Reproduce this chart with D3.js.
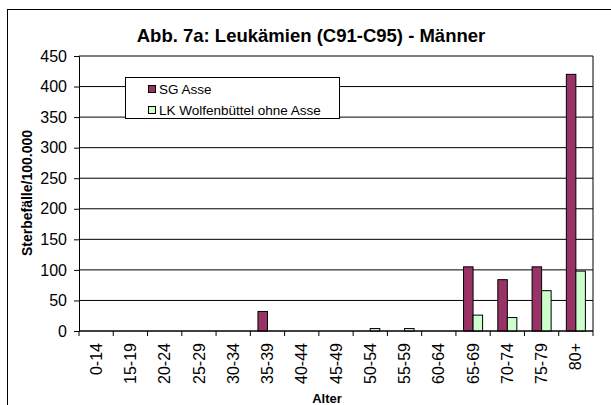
<!DOCTYPE html>
<html>
<head>
    <meta charset="UTF-8">
    <title>Leukämien Männer</title>
    <script src="https://d3js.org/d3.v7.min.js"></script>
    <style>
        body { margin: 0; background: #fff; }
        text { font-family: "Liberation Sans", Arial, sans-serif; fill: #000; }
    </style>
</head>
<body>
    <svg id="chart" width="611" height="405"></svg>
    <script>

        // data
        var categories = ["0-14", "15-19", "20-24", "25-29", "30-34", "35-39", "40-44", "45-49",
                          "50-54", "55-59", "60-64", "65-69", "70-74", "75-79", "80+"];
        var sgAsse = [0, 0, 0, 0, 0, 32, 0, 0, 0, 0, 0, 105, 84, 105, 420];
        var lkWolfenbuettel = [0, 0, 0, 0, 0, 0, 0, 0, 4, 4, 0, 26, 22, 66, 98];
        var seriesNames = ["SG Asse", "LK Wolfenbüttel ohne Asse"];
        var seriesColors = ["#993366", "#CCFFCC"];
        var yTicks = [0, 50, 100, 150, 200, 250, 300, 350, 400, 450];

        var svg = d3.select("#chart");

        // outer frame of the chart object
        svg.append("rect")
            .attr("x", 7.5).attr("y", 9.5)
            .attr("width", 620).attr("height", 420)
            .attr("fill", "#fff").attr("stroke", "#000");

        var x = d3.scaleBand().domain(categories).range([79, 593]).padding(0);
        var xs = d3.scaleBand().domain([0, 1]).range([0, x.bandwidth()])
            .paddingInner(0).paddingOuter(0.8);
        var y = d3.scaleLinear().domain([0, 450]).range([331, 56]);

        // gridlines
        svg.append("g").selectAll("line")
            .data(yTicks).enter().append("line")
            .attr("x1", 79).attr("x2", 593)
            .attr("y1", d => y(d)).attr("y2", d => y(d))
            .attr("stroke", "#000");

        // right border of plot area
        svg.append("line")
            .attr("x1", 593).attr("x2", 593)
            .attr("y1", y(450)).attr("y2", y(0))
            .attr("stroke", "#000");

        // bars
        var rows = categories.map((c, i) => ({ cat: c, vals: [sgAsse[i], lkWolfenbuettel[i]] }));
        var groups = svg.append("g").selectAll("g")
            .data(rows).enter().append("g")
            .attr("transform", d => "translate(" + x(d.cat) + ",0)");

        groups.selectAll("rect")
            .data(d => d.vals.map((v, k) => ({ k: k, v: v })).filter(e => e.v > 0))
            .enter().append("rect")
            .attr("x", e => xs(e.k))
            .attr("width", xs.bandwidth())
            .attr("y", e => y(e.v))
            .attr("height", e => y(0) - y(e.v))
            .attr("fill", e => seriesColors[e.k])
            .attr("stroke", "#000")
            .attr("stroke-width", 1);

        // y axis
        var yAxis = svg.append("g")
            .attr("transform", "translate(79,0)")
            .call(d3.axisLeft(y).tickValues(yTicks).tickSize(5).tickPadding(7));
        yAxis.selectAll("text").style("font-size", "16px").style("font-family", "Liberation Sans, Arial, sans-serif");
        yAxis.selectAll("path, line").attr("stroke", "#000");

        // x axis: ticks on category boundaries
        svg.append("line")
            .attr("x1", 79).attr("x2", 593)
            .attr("y1", y(0)).attr("y2", y(0))
            .attr("stroke", "#000");
        svg.append("g").selectAll("line")
            .data(categories.concat(["end"])).enter().append("line")
            .attr("x1", d => d === "end" ? x.range()[1] : x(d))
            .attr("x2", d => d === "end" ? x.range()[1] : x(d))
            .attr("y1", y(0)).attr("y2", y(0) + 5)
            .attr("stroke", "#000");

        svg.append("g").selectAll("text")
            .data(categories).enter().append("text")
            .attr("transform", d => "translate(" + (x(d) + x.bandwidth() / 2) + "," + (y(0) + 12) + ") rotate(-90)")
            .attr("dy", "0.35em")
            .attr("text-anchor", "end")
            .style("font-size", "16px")
            .text(d => d);

        // titles
        svg.append("text")
            .attr("x", 311).attr("y", 42)
            .attr("text-anchor", "middle")
            .style("font-size", "18.5px").style("font-weight", "bold")
            .text("Abb. 7a: Leukämien (C91-C95) - Männer");

        svg.append("text")
            .attr("transform", "translate(27,193) rotate(-90)")
            .attr("dy", "0.35em")
            .attr("text-anchor", "middle")
            .style("font-size", "14px").style("font-weight", "bold")
            .text("Sterbefälle/100.000");

        svg.append("text")
            .attr("x", 327).attr("y", 403)
            .attr("text-anchor", "middle")
            .style("font-size", "13px").style("font-weight", "bold")
            .text("Alter");

        // legend
        var legend = svg.append("g");
        legend.append("rect")
            .attr("x", 125.5).attr("y", 77.5)
            .attr("width", 214).attr("height", 41)
            .attr("fill", "#fff").attr("stroke", "#000");

        var items = legend.selectAll("g.item")
            .data(seriesNames).enter().append("g")
            .attr("class", "item")
            .attr("transform", (d, i) => "translate(148," + (89 + i * 21) + ")");
        items.append("rect")
            .attr("x", 0.5).attr("y", -3.5)
            .attr("width", 7).attr("height", 7)
            .attr("fill", (d, i) => seriesColors[i])
            .attr("stroke", "#000");
        items.append("text")
            .attr("x", 11).attr("dy", "0.35em")
            .style("font-size", "13.5px")
            .text(d => d);

    </script>
</body>
</html>
